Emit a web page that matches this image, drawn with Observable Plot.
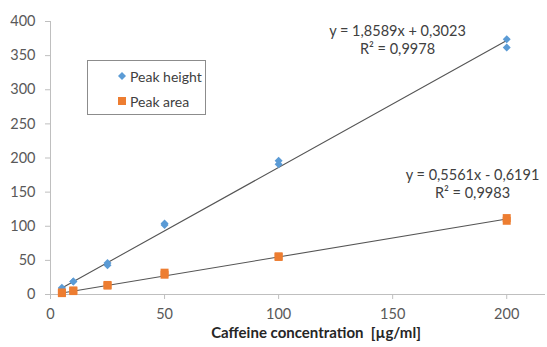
<!DOCTYPE html>
<html>
<head>
<meta charset="utf-8">
<script src="https://cdn.jsdelivr.net/npm/d3@7"></script>
<script src="https://cdn.jsdelivr.net/npm/@observablehq/plot@0.6"></script>
<style>
  html, body { margin: 0; padding: 0; background: #fff; }
  #wrap { position: relative; width: 547px; height: 347px; font-family: Lato, "Open Sans", sans-serif; }
  #legend { position: absolute; left: 87px; top: 60px; width: 117px; height: 53px; border: 1px solid #8c8c8c; background: #fff; font-size: 14px; color: #404040; }
  .item { position: absolute; left: 30px; display: flex; align-items: center; height: 16px; white-space: nowrap; }
  .item svg { margin-right: 4px; }
</style>
</head>
<body>
<div id="wrap"></div>
<script>
// Data
const concentration = [5, 5, 10, 10, 25, 25, 50, 50, 100, 100, 200, 200];
const peakHeight   = [8, 10, 19, 19, 43, 46, 102, 104, 191, 196, 362, 374];
const peakArea     = [2, 3, 5, 6, 13, 14, 29, 32, 55, 56, 108, 112];
const seriesNames  = ["Peak height", "Peak area"];
const slopes       = [1.8589, 0.5561];
const intercepts   = [0.3023, -0.6191];
const fitRange     = [5, 200];
const equations    = ["y = 1,8589x + 0,3023\nR² = 0,9978", "y = 0,5561x - 0,6191\nR² = 0,9983"];
const xTicks = [0, 50, 100, 150, 200];
const yTicks = [0, 50, 100, 150, 200, 250, 300, 350, 400];
const xLabel = "Caffeine concentration\u00a0 [µg/ml]";

const colors = ["#5B9BD5", "#ED7D31"];

const heightData = concentration.map((c, i) => ({x: c, y: peakHeight[i]}));
const areaData = concentration.map((c, i) => ({x: c, y: peakArea[i]}));
const fitLines = slopes.flatMap((m, k) => fitRange.map(x => ({series: k, x, y: m * x + intercepts[k]})));

const chart = Plot.plot({
  width: 547,
  height: 347,
  marginTop: 21,
  marginBottom: 53,
  marginLeft: 50,
  marginRight: 2,
  style: {fontFamily: "Lato, 'Open Sans', sans-serif", fontSize: "14px", color: "#595959", background: "#fff"},
  x: {domain: [0, 217]},
  y: {domain: [0, 400]},
  marks: [
    Plot.axisY({ticks: yTicks, tickSize: 5, tickPadding: 10, stroke: "#bfbfbf", fill: "#595959", label: null, fontSize: 14.5}),
    Plot.axisX({ticks: xTicks, tickSize: 5, tickPadding: 9, stroke: "#bfbfbf", fill: "#595959", label: null, fontSize: 14.5}),
    Plot.ruleX([0], {stroke: "#bfbfbf"}),
    Plot.ruleY([0], {stroke: "#bfbfbf"}),
    Plot.line(fitLines, {x: "x", y: "y", z: "series", stroke: "#555", strokeWidth: 1.1}),
    Plot.dot(heightData, {x: "x", y: "y", symbol: "diamond2", r: 3.6, fill: colors[0], stroke: null}),
    Plot.dot(areaData, {x: "x", y: "y", symbol: "square", r: 4.5, fill: colors[1], stroke: null}),
    Plot.text([equations[0]], {frameAnchor: "top-left", dx: 347, dy: 17.5, textAnchor: "middle", lineAnchor: "middle", lineHeight: 1.25, fill: "#404040", fontSize: 14.5}),
    Plot.text([equations[1]], {frameAnchor: "top-left", dx: 422, dy: 161.5, textAnchor: "middle", lineAnchor: "middle", lineHeight: 1.25, fill: "#404040", fontSize: 14.5}),
    Plot.text([xLabel], {frameAnchor: "bottom", dx: 18, dy: 43, textAnchor: "middle", fontWeight: "bold", fill: "#262626", fontSize: 15})
  ]
});

const wrap = document.getElementById("wrap");
wrap.appendChild(chart);

const legend = document.createElement("div");
legend.id = "legend";
const symbols = [
  '<svg width="8" height="8"><path d="M4,0L8,4L4,8L0,4Z" fill="' + colors[0] + '"/></svg>',
  '<svg width="8" height="8"><rect width="8" height="8" fill="' + colors[1] + '"/></svg>'
];
seriesNames.forEach((name, i) => {
  const item = document.createElement("div");
  item.className = "item";
  item.style.top = (i === 0 ? 7 : 32) + "px";
  item.innerHTML = symbols[i] + "<span>" + name + "</span>";
  legend.appendChild(item);
});
wrap.appendChild(legend);
</script>
</body>
</html>
